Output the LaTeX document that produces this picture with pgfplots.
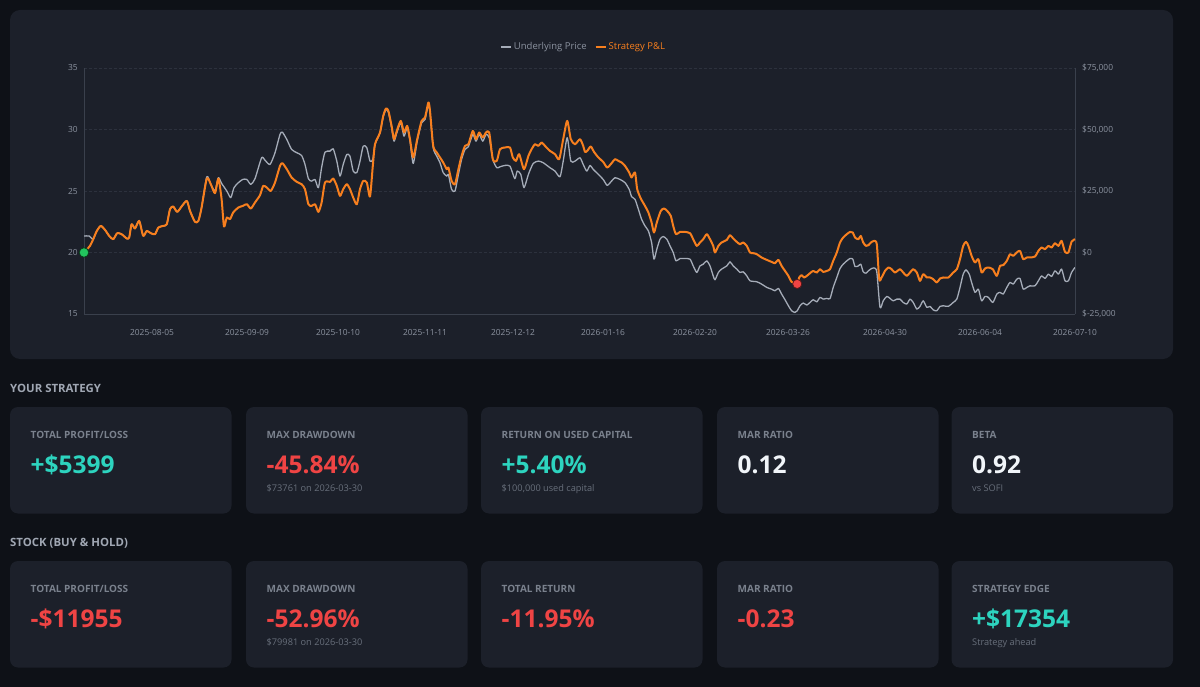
\documentclass[border=0pt]{standalone}
\usepackage{pgfplots}
\usepackage{pgfplotstable}
\pgfplotsset{compat=1.18}
\usepackage{fontspec}
\setmainfont{Open Sans}

\definecolor{pagebg}{RGB}{14,17,23}
\definecolor{panelbg}{RGB}{28,32,42}
\definecolor{gridcol}{RGB}{44,49,61}
\definecolor{axiscol}{RGB}{58,64,76}
\definecolor{tickcol}{RGB}{140,147,160}
\definecolor{greyline}{RGB}{165,172,184}
\definecolor{orangeline}{RGB}{247,127,30}
\definecolor{dotgreen}{RGB}{34,197,94}
\definecolor{dotred}{RGB}{239,68,68}
\definecolor{teal}{RGB}{45,212,191}
\definecolor{redtxt}{RGB}{239,68,68}
\definecolor{whitetxt}{RGB}{241,245,249}
\definecolor{titlecol}{RGB}{122,129,141}
\definecolor{subcol}{RGB}{104,111,123}
\definecolor{headcol}{RGB}{160,167,179}

% Underlying price (x = trading-day index)
\pgfplotstableread{
i p
0 21.34
1.3 21.34
2.3 21.08
3.2 21.76
4.2 22.16
5.25 21.84
6.3 21.35
7.3 21.08
8.3 21.57
9.4 21.49
10.7 21.14
11.3 21.22
11.9 22.3
12.75 21.95
13.8 22.57
14.8 21.35
15.7 21.76
16.7 21.57
17.75 21.49
18.6 22.03
19.8 22.16
20.7 22.3
21.5 23.52
22.3 23.74
23.3 23.3
24.4 23.74
25.7 24.2
26.5 23.38
27.75 22.49
28.6 22.57
29.4 23.66
30.7 26.16
31.7 25.54
32.75 25.0
33.6 26.08
34.4 25.62
35.7 25.0
36.7 24.46
37.5 25.27
38.6 25.68
39.7 25.94
40.7 25.94
41.7 25.54
42.75 26.0
44.4 27.7
45.25 27.5
46.5 27.16
47.75 28.11
49 29.6
49.6 29.78
50.7 29.19
51.9 28.38
53.2 28.11
54.4 27.89
55.25 27.16
56.1 26.0
56.9 25.8
57.75 25.94
58.6 25.27
59.4 26.9
60.25 28.16
61.5 28.24
62.3 28.43
63.2 27.43
64 26.21
64.8 27.16
65.7 27.97
66.5 27.83
67.3 26.62
68.2 26.49
69 27.43
69.8 28.65
70.7 28.52
71.5 27.43
72.2 27.57
72.75 28.78
74 29.73
74.8 31.03
75.5 31.62
76.1 31.4
76.9 30.14
77.5 29.05
78.2 29.73
79.2 30.54
80 29.46
80.8 30.14
81.5 29.05
82.3 27.24
83.3 29.05
84.4 30.54
85.25 30.81
86.1 32.03
86.5 31.35
87.3 28.52
88.2 27.83
89 27.3
89.8 26.49
90.7 26.21
91.1 26.35
91.9 25.13
92.75 25.0
93.6 26.35
94.4 27.57
95.25 28.38
96.1 28.6
97.2 29.6
98 29.05
98.8 29.6
99.7 29.05
100.5 29.6
101.3 29.33
102.2 27.57
103.2 26.89
104 26.97
105.25 27.08
106.5 27.02
107.7 26.0
108.3 26.62
109.2 26.35
110 25.27
111.1 26.35
112.3 27.24
113.6 27.43
114.8 27.3
116.5 26.89
117.75 26.62
119 26.16
119.8 27.43
120.8 29.33
121.7 27.43
122.75 27.43
124 27.7
124.8 27.16
125.7 26.62
126.5 27.08
127.3 26.76
128.6 26.35
129.8 25.94
130.8 25.46
131.9 25.81
132.75 26.08
134 25.94
135.25 25.68
136.3 25.13
136.9 24.54
137.75 24.32
138.6 23.51
139.4 22.7
140.25 22.16
141.1 21.75
141.9 20.81
142.5 19.46
143.2 20.27
144 21.08
144.8 21.3
145.7 21.08
146.5 20.54
147.3 20.0
148 19.32
149 19.51
150.25 19.51
151.5 19.46
152.3 18.91
153.2 18.38
154 18.91
154.8 19.05
155.7 19.32
156.5 18.91
157.3 18.1
157.75 17.78
158.6 18.38
159.4 18.65
160.7 18.91
161.5 19.24
162.3 18.91
163.2 18.65
164 18.38
164.8 18.43
165.7 18.1
166.5 17.7
168.2 17.62
169.4 17.43
170.7 17.16
171.9 17.02
172.75 16.89
173.6 17.08
174.4 16.62
175.25 16.16
176.1 15.67
176.9 15.26
177.75 15.13
178.3 15.26
179 15.67
179.8 15.89
180.7 15.73
181.5 15.94
182.3 16.16
183.2 15.99
184 16.35
184.8 16.21
185.7 16.27
186.5 16.25
187.3 17.16
188.2 17.97
189 18.7
189.8 19.05
190.7 19.32
191.5 19.51
192.2 19.46
192.75 18.86
193.6 18.91
194.2 19.05
194.8 18.43
195.5 18.32
196.1 18.51
196.9 18.7
197.5 18.75
198.2 18.42
199 15.54
199.8 16.07
200.7 16.43
201.5 16.27
202.3 16.07
203.2 16.21
204 16.21
204.8 15.94
205.7 15.81
206.5 16.21
207.3 15.94
208.2 15.4
209 15.62
209.8 16.07
210.7 15.54
211.5 15.62
212.3 15.34
213.2 15.26
214 15.62
214.8 15.67
216.1 15.62
217.3 15.94
218.2 16.21
219 17.16
219.8 18.24
220.5 18.59
221.3 18.24
221.9 17.57
222.75 16.76
223.6 17.02
224.4 16.07
225.25 16.43
226.1 16.35
227.2 15.94
228.2 16.62
229 16.76
229.8 16.62
230.7 17.16
231.5 17.57
232.3 17.43
233.2 17.83
234 17.89
234.8 17.02
235.7 17.16
236.5 17.29
237.75 17.29
238.6 17.7
239.4 18.1
240.25 17.89
241.1 18.24
241.9 18.05
242.75 18.51
243.6 18.24
244.4 18.65
245.25 17.7
246.1 17.7
246.9 18.38
247.75 18.79
}\pricedata

% Strategy P&L in dollars
\pgfplotstableread{
i v
0 0
1.5 2700
2.3 5400
3.2 8780
4.2 10810
5.25 9190
6.3 6750
7.3 5400
8.3 7850
9.4 7440
10.7 5690
11.3 6100
11.9 11500
12.75 9760
13.8 12850
14.8 6750
15.7 8780
16.7 7850
17.75 7440
18.6 10160
19.8 10810
20.7 11500
21.5 17600
22.3 18700
23.3 16500
24.4 18700
25.7 20980
26.5 16900
27.75 12440
28.6 12850
29.4 18290
30.7 30080
31.7 27760
32.75 24100
33.6 30080
34.4 21670
35 10570
35.7 14230
36.5 13540
37.3 16260
38.6 18290
39.7 18940
40.7 19630
41.7 17890
42.75 20330
44 23290
44.8 27070
45.7 26420
46.7 25040
47.75 28460
49 35200
49.6 36300
50.7 33860
51.9 30490
53.2 28700
54.4 27760
55.25 25730
56.1 19630
56.9 18940
57.75 19630
58.6 16500
59.4 20330
60.25 28460
61.5 28700
62.3 30080
63.2 27070
64 23010
64.8 25730
65.7 27760
66.5 25730
67.3 22360
68.2 19630
69 25730
69.8 29100
70.7 28460
71.5 22760
72.2 35200
72.75 44020
74 48780
74.8 55530
75.5 58540
76.1 57560
76.9 51460
77.5 46060
78.2 49430
79.2 53500
80 48780
80.8 51460
81.5 46060
82.3 38620
83.3 46060
84.4 53500
85.25 54880
86.1 60980
86.5 57560
87.3 43330
88.2 40650
89 38620
89.8 36590
90.7 33860
91.1 34550
91.9 29100
92.75 27760
93.6 33860
94.4 39270
95.25 43330
96.1 44020
97.2 49430
98 46060
98.8 48780
99.7 46750
100.5 48780
101.3 48780
102.2 37930
103.2 37240
104 41990
105.25 42680
106.5 42680
107.2 38620
108 37240
108.8 39960
110 33860
111.1 39270
111.9 41990
112.75 44020
113.6 43330
114.4 44720
115.25 43330
116.5 41300
117.75 39960
118.8 37930
119.8 46060
120.8 53500
121.7 46060
122.75 44020
124 46060
124.8 43330
125.25 40900
125.8 41300
126.7 43090
127.5 40900
128.6 38620
129.8 36830
130.8 34550
131.9 36300
132.75 37930
133.6 37240
134.4 36590
135.25 35200
136.3 32520
136.9 30490
137.75 32520
138.3 25730
139.2 21950
140.25 18940
141.1 16260
141.9 12200
142.5 8130
143.2 12200
144.2 16910
145 17890
145.8 16910
146.7 14880
147.3 10810
148 7440
149 8370
150.25 8370
151.5 7850
152.3 5400
153.2 2680
154 4070
154.8 5400
155.7 7440
156.5 5400
157.3 2680
157.75 0
158.6 2680
159.4 4070
160.7 5120
161.5 7030
162.3 5690
163.2 4310
164 3370
164.8 4070
165.7 2680
166.5 0
167.3 -270
168.2 -690
169.4 -2030
170.7 -3000
171.9 -3820
172.75 -4350
173.6 -3000
174.4 -5450
175.25 -7480
176.1 -9510
176.9 -11950
178.3 -12781
178.8 -10160
179.4 -9230
180 -10160
180.7 -9510
181.5 -8410
182.3 -7480
183.2 -8160
184 -6790
184.8 -7890
185.7 -7480
186.5 -6790
187.3 -3410
188.2 0
189 4070
189.8 6100
190.7 7440
191.5 8370
192.2 8130
192.75 6100
193.6 5400
194.2 6750
194.8 4070
195.5 2680
196.1 2970
196.9 4310
197.5 4720
198.2 3370
198.8 -10850
199.4 -10160
200.25 -7480
201.1 -6100
201.9 -6790
202.75 -8130
204 -6790
204.8 -8130
205.7 -9510
206.5 -8130
207.3 -6790
208.2 -8130
209 -11540
209.8 -8820
210.7 -10160
211.5 -10160
212.3 -10850
213.2 -12200
214 -10570
214.8 -10160
216.1 -10160
217.3 -8130
218.2 -6790
219 -2720
219.8 2680
220.5 4310
221.1 2680
221.9 -1380
222.75 -4070
223.6 -2720
224.4 -8130
225.25 -6500
226.1 -6100
227.2 -6790
228.2 -9510
229 -5450
229.8 -5160
230.7 -3410
231.5 -690
232.3 -1380
233.2 0
234 650
234.8 -2720
235.7 -2030
236.5 -2030
237.75 -1630
238.6 650
239.4 2030
240.25 1340
241.1 2680
241.9 2030
242.75 3780
243.6 2680
244.4 4720
245.25 240
246.1 0
246.9 4400
247.75 5399
}\pnldata

\pgfplotstableread{
i v
0 0
}\startpt
\pgfplotstableread{
i v
178.3 -12781
}\ddpt

\newcommand{\titlefont}{\fontsize{10}{12}\selectfont\bfseries}
\newcommand{\valfont}{\fontsize{24.5}{28}\selectfont\bfseries}
\newcommand{\subfont}{\fontsize{9.2}{11}\selectfont}
\newcommand{\headfont}{\fontsize{11.4}{13}\selectfont\bfseries}

% #1 x, #2 top, #3 title, #4 value colour, #5 value, #6 subtitle
\newcommand{\card}[6]{%
  \fill[panelbg, rounded corners=8pt] (#1,#2) rectangle ++(221.5,106.5);
  \node[anchor=base west, inner sep=0pt, text=titlecol, font=\titlefont] at (#1+20.5,#2+31) {#3};
  \node[anchor=base west, inner sep=0pt, text=#4, font=\valfont] at (#1+20.5,#2+66) {#5};
  \node[anchor=base west, inner sep=0pt, text=subcol, font=\subfont] at (#1+20.5,#2+84) {#6};
}

\begin{document}
\begin{tikzpicture}
\path[use as bounding box] (0pt,0pt) rectangle (1200pt,-687pt);
\fill[pagebg] (0pt,0pt) rectangle (1200pt,-687pt);
\begin{scope}[x=1pt,y=-1pt]
  \fill[panelbg, rounded corners=10pt] (10,10) rectangle (1173,359);
\end{scope}

\begin{axis}[
  at={(84pt,-314pt)}, anchor=south west,
  scale only axis, width=991pt, height=246pt,
  xmin=0, xmax=247.75, ymin=15, ymax=35,
  xtick={17,40.75,63.5,85.25,107.25,129.75,152.75,176,200.25,224,247.75},
  xticklabels={2025-08-05,2025-09-09,2025-10-10,2025-11-11,2025-12-12,2026-01-16,2026-02-20,2026-03-26,2026-04-30,2026-06-04,2026-07-10},
  ytick={15,20,25,30,35}, yticklabels={15,20,25,30,35},
  axis x line*=bottom, axis y line*=left,
  axis line style={draw=axiscol, line width=0.8pt},
  ymajorgrids, grid style={draw=gridcol, densely dashed, line width=0.6pt},
  major tick length=0pt,
  tick label style={font=\fontsize{8.4}{10}\selectfont, text=tickcol},
  xticklabel style={inner sep=0pt, anchor=north, yshift=-15pt},
  yticklabel style={inner sep=0pt, anchor=east, xshift=-6pt},
]
\addplot[draw=greyline, line width=1.3pt, no markers, smooth, tension=0.4, line join=round] table[x=i, y=p] {\pricedata};
\end{axis}

\begin{axis}[
  at={(84pt,-314pt)}, anchor=south west,
  scale only axis, width=991pt, height=246pt,
  xmin=0, xmax=247.75, ymin=-25000, ymax=75000,
  axis x line=none, axis y line*=right,
  axis line style={draw=axiscol, line width=0.8pt},
  ytick={-25000,0,25000,50000,75000},
  yticklabels={{\$-25,000},{\$0},{\$25,000},{\$50,000},{\$75,000}},
  scaled y ticks=false,
  major tick length=0pt,
  tick label style={font=\fontsize{8.4}{10}\selectfont, text=tickcol},
  yticklabel style={inner sep=0pt, anchor=west, xshift=7pt},
  clip=false,
  legend columns=2,
  legend image code/.code={\draw[#1, line width=2pt] (0pt,0pt) -- (10pt,0pt);},
  legend style={at={(0.504,1.085)}, anchor=center, draw=none, fill=none,
    font=\fontsize{9.5}{11}\selectfont, inner sep=0pt,
    /tikz/every even column/.append style={column sep=6pt}},
]
\addlegendimage{draw=greyline}
\addlegendentry{\textcolor{tickcol}{Underlying Price}}
\addplot[draw=orangeline, line width=2pt, no markers, smooth, tension=0.4, line join=round] table[x=i, y=v] {\pnldata};
\addlegendentry{\textcolor{orangeline}{Strategy P\&L}}
\addplot[only marks, mark=*, mark size=4.8pt, mark options={fill=dotgreen, draw=black!70!dotgreen, line width=0.8pt}, forget plot] table[x=i, y=v] {\startpt};
\addplot[only marks, mark=*, mark size=4.6pt, mark options={fill=dotred, draw=black!65!dotred, line width=0.8pt}, forget plot] table[x=i, y=v] {\ddpt};
\end{axis}

\begin{scope}[x=1pt,y=-1pt]
  \node[anchor=base west, inner sep=0pt, text=headcol, font=\headfont] at (10,392.2) {YOUR STRATEGY};
  \card{10}{407}{TOTAL PROFIT/LOSS}{teal}{+\$5399}{}
  \card{246}{407}{MAX DRAWDOWN}{redtxt}{-45.84\%}{\$73761 on 2026-03-30}
  \card{481}{407}{RETURN ON USED CAPITAL}{teal}{+5.40\%}{\$100,000 used capital}
  \card{717}{407}{MAR RATIO}{whitetxt}{0.12}{}
  \card{951.5}{407}{BETA}{whitetxt}{0.92}{vs SOFI}

  \node[anchor=base west, inner sep=0pt, text=headcol, font=\headfont] at (10,546.9) {STOCK (BUY \& HOLD)};
  \card{10}{561}{TOTAL PROFIT/LOSS}{redtxt}{-\$11955}{}
  \card{246}{561}{MAX DRAWDOWN}{redtxt}{-52.96\%}{\$79981 on 2026-03-30}
  \card{481}{561}{TOTAL RETURN}{redtxt}{-11.95\%}{}
  \card{717}{561}{MAR RATIO}{redtxt}{-0.23}{}
  \card{951.5}{561}{STRATEGY EDGE}{teal}{+\$17354}{Strategy ahead}
\end{scope}
\end{tikzpicture}
\end{document}
